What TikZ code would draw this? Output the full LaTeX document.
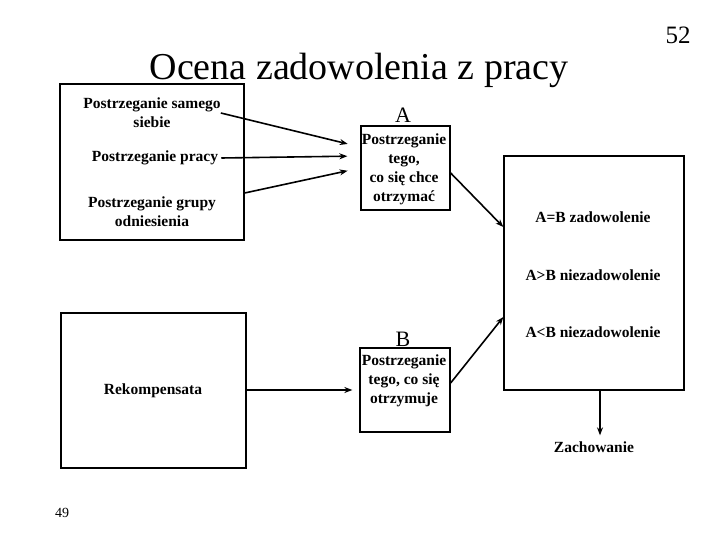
\documentclass[tikz,border=0pt]{standalone}
\usepackage{fontspec}
\setmainfont{Liberation Serif}
\usetikzlibrary{arrows.meta,calc}
\begin{document}
\begin{tikzpicture}[x=1pt,y=-1pt,
  box/.style={draw, line width=1.3pt, inner sep=0pt},
  txt/.style={font=\fontsize{15.5}{19}\selectfont\bfseries, align=center, inner sep=0pt},
  lbl/.style={font=\fontsize{22}{24}\selectfont, inner sep=0pt},
  arr/.style={-{Stealth[length=8pt,width=6pt]}, line width=1.6pt}]
\useasboundingbox (0,0) rectangle (720,540);
% title and page numbers
\node[anchor=base, inner sep=0pt, font=\fontsize{38}{42}\selectfont] (title) at (359,80) {Ocena zadowolenia z pracy};
\node[anchor=base, inner sep=0pt, font=\fontsize{25}{30}\selectfont] (num52) at (678,44) {52};
\node[anchor=base, inner sep=0pt, font=\fontsize{14}{16}\selectfont] (num49) at (62,517) {49};
% boxes
\node[box, minimum width=184pt, minimum height=156pt] (b1) at (152,162) {};
\node[box, minimum width=89pt, minimum height=84pt] (bA) at (405.5,168) {};
\node[box, minimum width=180pt, minimum height=234pt] (bR) at (594,273) {};
\node[box, minimum width=185pt, minimum height=155pt] (bK) at (153.5,390.5) {};
\node[box, minimum width=90pt, minimum height=84pt] (bB) at (405,390) {};
% texts
\node[txt] (t1) at (152,113) {Postrzeganie samego\\siebie};
\node[txt] (t2) at (155,158) {Postrzeganie pracy};
\node[txt] (t3) at (152,212) {Postrzeganie grupy\\odniesienia};
\node[lbl] (lA) at (403,115.5) {A};
\node[txt] (tA) at (404,169) {Postrzeganie\\tego,\\co się chce\\otrzymać};
\node[txt] (r1) at (593,217) {A=B zadowolenie};
\node[txt] (r2) at (593,275) {A>B niezadowolenie};
\node[txt] (r3) at (593,332) {A<B niezadowolenie};
\node[txt] (tK) at (153,391) {Rekompensata};
\node[lbl] (lB) at (403,339.5) {B};
\node[txt] (tB) at (404,381) {Postrzeganie\\tego, co się\\otrzymuje};
\node[txt] (zach) at (594,447) {Zachowanie};
% connectors
\draw[arr, shorten >=13pt] (t1.east) -- (bA.west |- 0,147);
\draw[arr, shorten >=13pt] ([xshift=3pt]t2.east) -- (bA.west |- 0,156);
\draw[arr, shorten >=13pt] (b1.east |- 0,193) -- (bA.west |- 0,168);
\draw[arr] (bA.east |- 0,173) -- (bR.west |- 0,227);
\draw[arr] (bB.east |- 0,383) -- (bR.west |- 0,317);
\draw[arr, shorten >=7pt] (bK.east |- 0,390) -- (bB.west |- 0,390);
\draw[arr, shorten >=6pt] (bR.south -| 600,0) -- (zach.north -| 600,0);
\end{tikzpicture}
\end{document}
